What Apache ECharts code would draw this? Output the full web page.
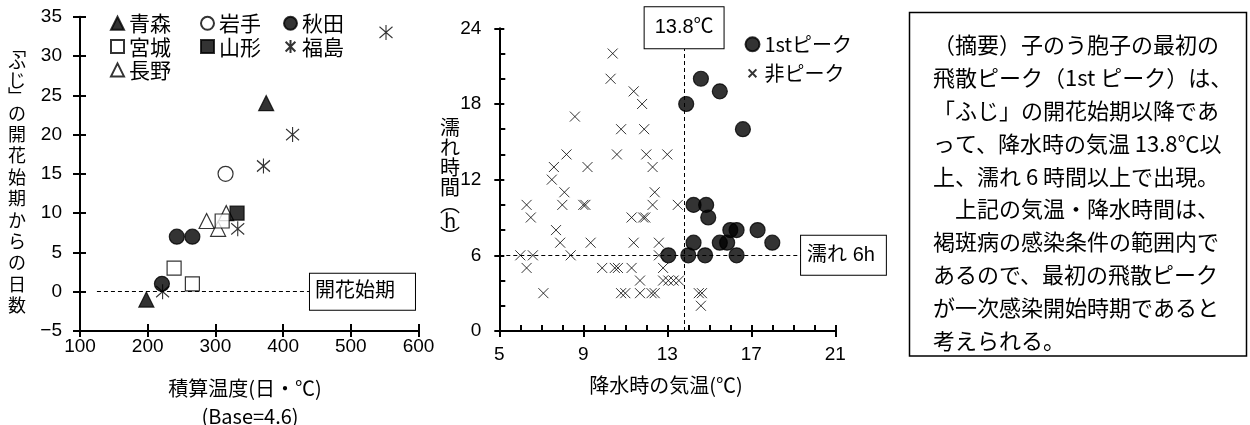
<!DOCTYPE html>
<html><head><meta charset="utf-8">
<script src="https://cdn.jsdelivr.net/npm/echarts@6/dist/echarts.min.js"></script>
<style>html,body{margin:0;padding:0;background:#fff}#c{width:1250px;height:425px}</style>
</head><body><div id="c"></div>
<script>
// ---------- Left chart: accumulated temperature (day·°C) vs days from bloom ----------
const aomori    = [[198,-1],[375,24]];
const iwate     = [[315,15]];
const akita     = [[221,1],[243,7],[266,7]];
const miyagi    = [[239,3],[266,1],[310,9]];
const yamagata  = [[332,10]];
const fukushima = [[222,0],[333,8],[371,16],[414,20],[552,33]];
const nagano    = [[287,9],[304,8],[316,10]];
const leftX = [100, 600, 100];   // min, max, interval
const leftY = [-5, 35, 5];
const bloomLine = [[125,0],[439.7,0]];

// ---------- Right chart: temperature during rain (°C) vs wetness duration (h) ----------
const firstPeak = [[14.6,20],[15.5,19],[13.9,18],[16.6,16],[14.25,10],[14.85,10],[14.95,9],
  [16.0,8],[16.3,8],[17.3,8],[14.25,7],[15.5,7],[15.85,7],[18.0,7],[13.05,6],[14.0,6],[14.8,6],[16.3,6]];
const nonPeak = [[10.4,22],[10.3,20],[11.4,19],[11.8,18],[8.6,17],[10.8,16],[11.9,16],
  [8.2,14],[10.6,14],[12.0,14],[13.0,14],[7.6,13],[9.2,13],[12.3,13],[7.5,12],
  [8.1,11],[12.4,11],[6.3,10],[8.0,10],[9.0,10],[9.1,10],[12.3,10],[13.5,10],
  [6.5,9],[11.3,9],[11.85,9],[11.95,9],[7.7,8],[7.9,7],[9.35,7],[11.4,7],[12.6,7],
  [6.0,6],[6.6,6],[8.4,6],[12.6,6],[6.3,5],[9.9,5],[10.5,5],[10.65,5],[11.3,5],[12.8,5],
  [11.7,4],[12.8,4],[13.05,4],[13.3,4],[13.55,4],
  [7.1,3],[10.8,3],[11.0,3],[11.7,3],[12.25,3],[12.4,3],[14.5,3],[14.65,3],[14.6,2]];
const rightX = [5, 21, 4];
const rightY = [0, 24, 6];
const tempLine = [[13.8,0],[13.8,22.42]];
const wetLine  = [[5,6],[19.37,6]];

const summaryLines = [
  '（摘要）子のう胞子の最初の',
  '飛散ピーク（1st ピーク）は、',
  '「ふじ」の開花始期以降であ',
  'って、降水時の気温 13.8℃以',
  '上、濡れ 6 時間以上で出現。',
  '　上記の気温・降水時間は、',
  '褐斑病の感染条件の範囲内で',
  'あるので、最初の飛散ピーク',
  'が一次感染開始時期であると',
  '考えられる。'
];

// ---------- options ----------
const FONT = "'Liberation Sans','Noto Sans CJK JP',sans-serif";
const JFONT = "'Noto Sans CJK JP','Noto Sans',sans-serif";
const shift = p => [p[0] - rightX[0], p[1]];
const tickStyle = c => ({color:c, width:2, type:[60,1]});
const ASTER = 'path://M1,2L13,14M13,2L1,14M7,0L7,16';
const CROSS = 'path://M0,0L10,10M10,0L0,10';
const CROSS_LEG = 'path://M-4,-4L-4,-4M14,14L14,14M0,0L10,10M10,0L0,10';

function mainAxis(gi, min, max, interval, tickLen, label, pos) {
  return {gridIndex:gi, type:'value', min, max, interval, position:pos,
    axisLine:{show:true, onZero:false, lineStyle:{color:'#000', width:2}},
    axisTick:{show:true, length:tickLen, lineStyle:tickStyle('#000')},
    axisLabel:Object.assign({color:'#000', fontSize:19, fontFamily:FONT}, label),
    splitLine:{show:false}};
}
function overlayAxis(gi, min, max, interval, tickLen, minorSplit, pos) {
  const a = {gridIndex:gi, type:'value', min, max, interval, position:pos,
    axisLine:{show:false, onZero:false},
    axisTick:{show:true, inside:true, length:tickLen, lineStyle:tickStyle('#010101')},
    axisLabel:{show:false}, splitLine:{show:false}};
  if (minorSplit) a.minorTick = {show:true, splitNumber:minorSplit, length:6, lineStyle:tickStyle('#020202')};
  return a;
}
const minusFmt = v => v < 0 ? '−' + Math.abs(v) : String(v);

const boxLabel = (text, pad, lh) => ({show:true, position:'end', distance:0, formatter:text,
  color:'#000', fontSize:20, fontFamily:FONT, lineHeight:lh, backgroundColor:'#fff',
  borderColor:'#000', borderWidth:1, padding:pad});
const dashed = () => ({color:'#000', type:[4,3], width:1});

function sc(name, data, symbol, size, fill, xi, extra) {
  return Object.assign({type:'scatter', name, data, symbol, symbolSize:size,
    xAxisIndex:xi, yAxisIndex:xi,
    itemStyle:{color:fill, borderColor:'#000', borderWidth:1.2}, silent:true}, extra || {});
}

const legendBase = () => ({orient:'vertical', itemGap:0, itemWidth:13, itemHeight:13, selectedMode:false,
  textStyle:{color:'#000', fontSize:21, lineHeight:23.3, fontFamily:JFONT}});

const option = {
  animation:false,
  backgroundColor:'#fff',
  grid:[
    {left:80, top:16.7, width:338.5, height:314.3},
    {left:499.3, top:28.3, width:336, height:302.7}
  ],
  xAxis:[
    mainAxis(0, leftX[0], leftX[1], leftX[2], 6, {margin:6}, 'bottom'),
    overlayAxis(0, leftX[0], leftX[1], leftX[2], 7, 0, 'bottom'),
    mainAxis(1, 0, rightX[1]-rightX[0], rightX[2], 6, {margin:14, formatter:v => String(v + rightX[0])}, 'bottom'),
    overlayAxis(1, 0, rightX[1]-rightX[0], rightX[2], 6, 4, 'bottom')
  ],
  yAxis:[
    mainAxis(0, leftY[0], leftY[1], leftY[2], 7, {margin:18, formatter:minusFmt}, 'left'),
    overlayAxis(0, leftY[0], leftY[1], leftY[2], 6, 0, 'left'),
    mainAxis(1, rightY[0], rightY[1], rightY[2], 5, {margin:18}, 'left'),
    overlayAxis(1, rightY[0], rightY[1], rightY[2], 5, 3, 'left')
  ],
  legend:[
    Object.assign(legendBase(), {left:105, top:6.65, data:['青森','宮城','長野']}),
    Object.assign(legendBase(), {left:195, top:6.65, data:['岩手','山形']}),
    Object.assign(legendBase(), {left:278, top:6.65, data:['秋田','福島']}),
    Object.assign(legendBase(), {left:738, top:24.8, itemWidth:14, itemHeight:14,
      textStyle:{color:'#000', fontSize:20, lineHeight:29, fontFamily:JFONT},
      data:['1stピーク', {name:'非ピーク', icon:CROSS_LEG}]})
  ],
  series:[
    sc('長野', nagano, 'triangle', 15, '#fff', 0),
    sc('宮城', miyagi, 'rect', 14, '#fff', 0),
    sc('岩手', iwate, 'circle', 15, '#fff', 0),
    sc('青森', aomori, 'triangle', 15, '#000', 0),
    sc('秋田', akita, 'circle', 15, '#000', 0),
    sc('山形', yamagata, 'rect', 14, '#000', 0),
    sc('福島', fukushima, ASTER, [13,15], 'none', 0, {
      markLine:{silent:true, symbol:['none','none'], animation:false, lineStyle:dashed(),
        label:boxLabel('開花始期', [8,20,8,5], 20),
        data:[[{coord:bloomLine[0]},{coord:bloomLine[1]}]]}}),
    sc('非ピーク', nonPeak.map(shift), CROSS, 10, 'none', 2, {
      itemStyle:{color:'none', borderColor:'#000', borderWidth:1},
      markLine:{silent:true, symbol:['none','none'], animation:false, lineStyle:dashed(),
        label:boxLabel('濡れ 6h', [9,11,9,6], 21),
        data:[[{coord:shift(wetLine[0])},{coord:shift(wetLine[1])}]]}}),
    sc('1stピーク', firstPeak.map(shift), 'circle', 15, '#000', 2, {
      markLine:{silent:true, symbol:['none','none'], animation:false, lineStyle:dashed(),
        label:boxLabel('13.8℃', [10,10,10,10], 21),
        data:[[{coord:shift(tempLine[0])},{coord:shift(tempLine[1])}]]}})
  ],
  graphic:[
    {type:'text', x:17, y:44, silent:true, style:{
      text:'{b|﹁}\n{a|ふ}\n{a|じ}\n{c|﹂}\n{d|の}\n{d|開}\n{d|花}\n{d|始}\n{d|期}\n{d|か}\n{d|ら}\n{d|の}\n{d|日}\n{d|数}',
      align:'center', verticalAlign:'top', fill:'#000',
      rich:{
        a:{fontSize:18, lineHeight:19, fontFamily:JFONT, fill:'#000'},
        b:{fontSize:18, lineHeight:8, fontFamily:JFONT, fill:'#000'},
        c:{fontSize:18, lineHeight:12, fontFamily:JFONT, fill:'#000'},
        d:{fontSize:18, lineHeight:21.4, fontFamily:JFONT, fill:'#000'}
      }}},
    {type:'text', x:245, y:388, silent:true, style:{text:'積算温度(日・℃)', fontSize:20, fontFamily:JFONT,
      fill:'#000', align:'center', verticalAlign:'middle'}},
    {type:'text', x:250, y:416.5, silent:true, style:{text:'(Base=4.6)', fontSize:20, fontFamily:JFONT,
      fill:'#000', align:'center', verticalAlign:'middle'}},
    {type:'text', x:450, y:117, silent:true, style:{
      text:'{a|濡}\n{a|れ}\n{a|時}\n{a|間}\n{b|︵}\n{c|h}\n{b|︶}',
      align:'center', verticalAlign:'top', fill:'#000',
      rich:{
        a:{fontSize:20, lineHeight:20, fontFamily:JFONT, fill:'#000'},
        b:{fontSize:20, lineHeight:14, fontFamily:JFONT, fill:'#000'},
        c:{fontSize:20, lineHeight:18, fontFamily:JFONT, fill:'#000'}
      }}},
    {type:'text', x:666, y:385, silent:true, style:{text:'降水時の気温(℃)', fontSize:20, fontFamily:JFONT,
      fill:'#000', align:'center', verticalAlign:'middle'}},
    {type:'rect', silent:true, shape:{x:909.5, y:12.5, width:337, height:343.5},
      style:{fill:'none', stroke:'#000', lineWidth:1.5}},
    {type:'text', x:933, y:28.6, silent:true, style:{text:summaryLines.join('\n'), fontSize:22,
      lineHeight:32.8, fontFamily:JFONT, fill:'#000', align:'left', verticalAlign:'top'}}
  ]
};

const chart = echarts.init(document.getElementById('c'), null, {renderer:'canvas'});
chart.setOption(option);
</script>
</body></html>
